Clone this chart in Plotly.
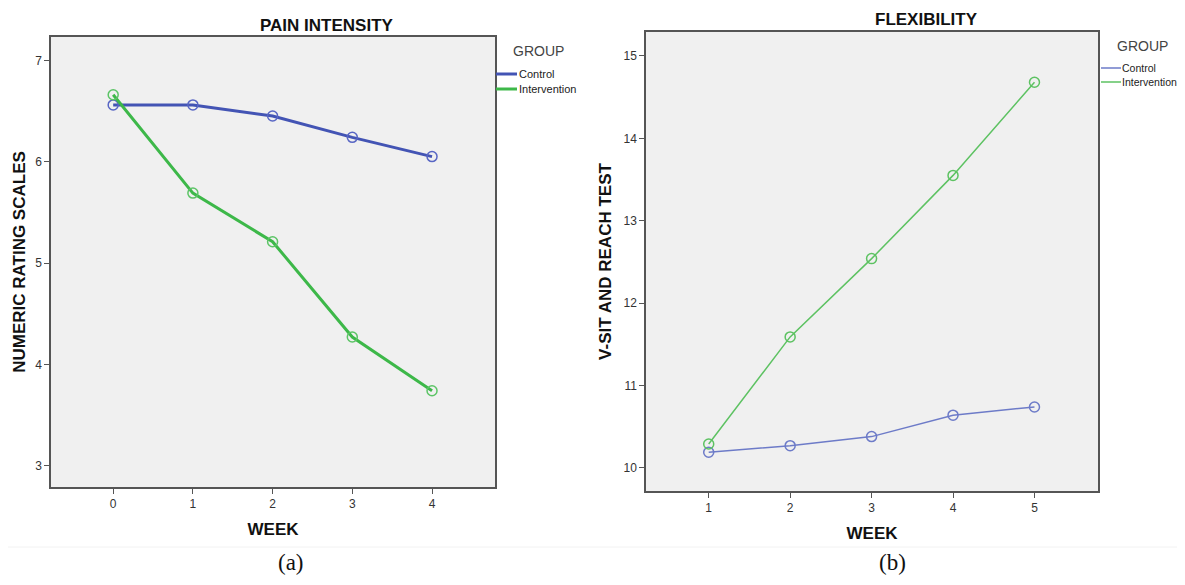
import plotly.graph_objects as go

# The page body has an 8px default margin: size the figure to fit the window
OFF = 8
W, H = 1185 - OFF, 585 - 2 * OFF

groups = ["Control", "Intervention"]

pain_weeks = [0, 1, 2, 3, 4]
pain_control = [6.56, 6.56, 6.45, 6.24, 6.05]
pain_intervention = [6.66, 5.69, 5.21, 4.27, 3.74]

flex_weeks = [1, 2, 3, 4, 5]
flex_control = [10.19, 10.27, 10.38, 10.64, 10.74]
flex_intervention = [10.29, 11.59, 12.54, 13.55, 14.68]

pain_yticks = [3, 4, 5, 6, 7]
flex_yticks = [10, 11, 12, 13, 14, 15]

left_colors = ["#4354b4", "#3db849"]
left_marker = ["#5866c4", "#5cc466"]
right_colors = ["#6d7bc8", "#5dc262"]
right_marker = ["#6d7bc8", "#5dc262"]

FONT = "Liberation Sans, Arial, sans-serif"
SERIF = "Liberation Serif, Times New Roman, serif"


def px(x):
    return (x - OFF) / W


def py(y):
    return 1 - (y - OFF) / H


fig = go.Figure()

for name, vals, c, mc in zip(groups, [pain_control, pain_intervention], left_colors, left_marker):
    fig.add_trace(go.Scatter(
        x=pain_weeks, y=vals, name=name, mode="lines+markers",
        line=dict(color=c, width=3),
        marker=dict(symbol="circle-open", size=10, color=mc, line=dict(width=1.5, color=mc)),
        xaxis="x", yaxis="y", showlegend=False))

for name, vals, c, mc in zip(groups, [flex_control, flex_intervention], right_colors, right_marker):
    fig.add_trace(go.Scatter(
        x=flex_weeks, y=vals, name=name, mode="lines+markers",
        line=dict(color=c, width=1.5),
        marker=dict(symbol="circle-open", size=10, color=mc, line=dict(width=1.5, color=mc)),
        xaxis="x2", yaxis="y2", showlegend=False))

axis_common = dict(
    showgrid=False, zeroline=False, showline=True, mirror=True,
    linecolor="#555555", linewidth=1.5,
    ticks="outside", ticklen=5, tickcolor="#555555", tickwidth=1,
    tickfont=dict(family=FONT, size=12, color="#333333"),
)
title_font = dict(family=FONT, size=17, color="#111111")

fig.update_layout(
    width=W, height=H, autosize=False,
    margin=dict(l=0, r=0, t=0, b=0),
    paper_bgcolor="white", plot_bgcolor="#f0f0f0",
    xaxis=dict(domain=[px(51), px(495)], range=[-0.78, 4.79], tickvals=pain_weeks,
               title=dict(text="<b>WEEK</b>", font=title_font, standoff=13), anchor="y", **axis_common),
    yaxis=dict(domain=[py(487), py(37)], range=[2.79, 7.23], tickvals=pain_yticks,
               title=dict(text="<b>NUMERIC RATING SCALES</b>", font=title_font, standoff=5), anchor="x", **axis_common),
    xaxis2=dict(domain=[px(646), px(1098)], range=[0.23, 5.78], tickvals=flex_weeks,
                title=dict(text="<b>WEEK</b>", font=title_font, standoff=13), anchor="y2", **axis_common),
    yaxis2=dict(domain=[py(491), py(32)], range=[9.72, 15.29], tickvals=flex_yticks,
                title=dict(text="<b>V-SIT AND REACH TEST</b>", font=title_font, standoff=8), anchor="x2", **axis_common),
    showlegend=False,
)

# panel titles
fig.add_annotation(x=px(327), y=py(26), xref="paper", yref="paper", text="<b>PAIN INTENSITY</b>",
                   showarrow=False, font=title_font, xanchor="center", yanchor="middle")
fig.add_annotation(x=px(926), y=py(20), xref="paper", yref="paper", text="<b>FLEXIBILITY</b>",
                   showarrow=False, font=title_font, xanchor="center", yanchor="middle")


# legends (SPSS style: short line sample, title above)
def add_legend(gx, gy, lx0, lx1, ys, tx, colors, lw, fs):
    fig.add_annotation(x=px(gx), y=py(gy), xref="paper", yref="paper", text="GROUP",
                       showarrow=False, font=dict(family=FONT, size=14, color="#444444"),
                       xanchor="left", yanchor="middle")
    for name, yy, c in zip(groups, ys, colors):
        fig.add_shape(type="line", xref="paper", yref="paper",
                      x0=px(lx0), x1=px(lx1), y0=py(yy), y1=py(yy),
                      line=dict(color=c, width=lw))
        fig.add_annotation(x=px(tx), y=py(yy), xref="paper", yref="paper", text=name,
                           showarrow=False, font=dict(family=FONT, size=fs, color="#222222"),
                           xanchor="left", yanchor="middle", borderpad=0)


add_legend(511, 51, 496, 517, [74, 89], 518, left_colors, 3, 11)
add_legend(1115, 46, 1101, 1121, [68, 82], 1121, right_colors, 1.5, 10.5)

# separator line and panel labels
fig.add_shape(type="line", xref="paper", yref="paper", x0=0, x1=1, y0=py(547), y1=py(547),
              line=dict(color="#f2f2f2", width=1))
fig.add_annotation(x=px(291), y=py(562), xref="paper", yref="paper", text="(a)", showarrow=False,
                   font=dict(family=SERIF, size=23, color="#111111"),
                   xanchor="center", yanchor="middle", borderpad=0)
fig.add_annotation(x=px(892), y=py(562), xref="paper", yref="paper", text="(b)", showarrow=False,
                   font=dict(family=SERIF, size=23, color="#111111"),
                   xanchor="center", yanchor="middle", borderpad=0)

fig.write_html("out.html")
